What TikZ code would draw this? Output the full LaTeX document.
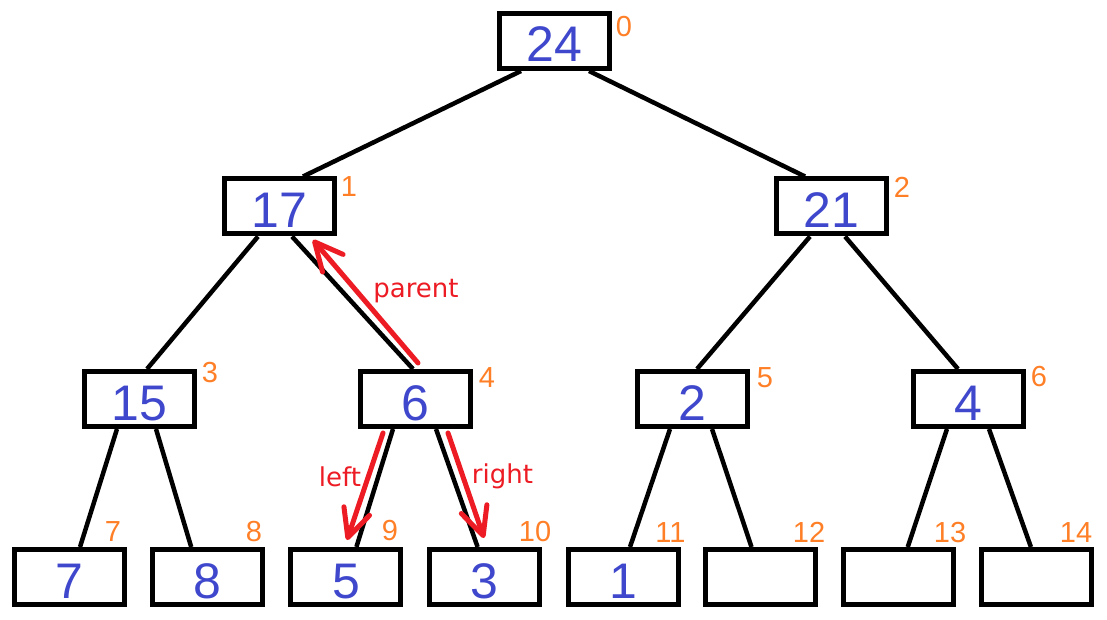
\documentclass[tikz,border=0pt]{standalone}
\usepackage{fontspec}
\setmainfont{Liberation Sans}
\newfontfamily\labelfont{DejaVu Sans}
\usetikzlibrary{arrows.meta}
\definecolor{numblue}{HTML}{3F48CC}
\definecolor{idxorange}{HTML}{FF7F27}
\definecolor{arrred}{HTML}{ED1C24}
\tikzset{
  heapbox/.style={draw=black, line width=5pt, minimum width=110pt, minimum height=55pt,
    inner sep=0pt, text height=42pt, text depth=0pt, text=numblue,
    font=\fontsize{50}{50}\selectfont},
  idx/.style={text=idxorange, inner sep=0pt, font=\fontsize{29}{29}\selectfont},
  edge/.style={draw=black, line width=4.5pt},
  redarrow/.style={draw=arrred, line width=5pt, line cap=round,
    -{Straight Barb[length=28pt,width=27pt,round]}},
  redlabel/.style={text=arrred, inner sep=0pt, anchor=base,
    font=\labelfont\fontsize{26}{26}\selectfont}
}
\begin{document}
\begin{tikzpicture}[x=1pt,y=-1pt]
\useasboundingbox (0,0) rectangle (1107,620);
\fill[white] (0,0) rectangle (1107,620);
% nodes
\node[heapbox] (n0) at (554,41) {24};
\node[heapbox] (n1) at (279.5,206.5) {17};
\node[heapbox] (n2) at (831,206.5) {21};
\node[heapbox] (n3) at (139.5,399) {15};
\node[heapbox] (n4) at (415.5,399) {6};
\node[heapbox] (n5) at (692,399) {2};
\node[heapbox] (n6) at (968,399) {4};
\node[heapbox] (n7) at (69.5,577) {7};
\node[heapbox] (n8) at (207.7,577) {8};
\node[heapbox] (n9) at (345.9,577) {5};
\node[heapbox] (n10) at (484.1,577) {3};
\node[heapbox] (n11) at (623,577) {1};
\node[heapbox] (n12) at (760.5,577) {};
\node[heapbox] (n13) at (898.7,577) {};
\node[heapbox] (n14) at (1036.9,577) {};
% index labels
\node[idx] (i0) at (624,27) {0};
\node[idx] (i1) at (349,187) {1};
\node[idx] (i2) at (902,187) {2};
\node[idx] (i3) at (210,373) {3};
\node[idx] (i4) at (487,378) {4};
\node[idx] (i5) at (765,378) {5};
\node[idx] (i6) at (1039,377) {6};
\node[idx] (i7) at (113,532) {7};
\node[idx] (i8) at (254,532) {8};
\node[idx] (i9) at (390,531) {9};
\node[idx] (i10) at (535,532) {10};
\node[idx] (i11) at (670.5,533) {11};
\node[idx] (i12) at (809,532) {12};
\node[idx] (i13) at (950,533) {13};
\node[idx] (i14) at (1076,533) {14};
% edges
\draw[edge] ([xshift=-33pt]n0.south) -- ([xshift=23.5pt]n1.north);
\draw[edge] ([xshift=35pt]n0.south) -- ([xshift=-26pt]n2.north);
\draw[edge] ([xshift=-21.5pt]n1.south) -- ([xshift=7.5pt]n3.north);
\draw[edge] ([xshift=12.5pt]n1.south) -- ([xshift=-2.5pt]n4.north);
\draw[edge] ([xshift=-21pt]n2.south) -- ([xshift=5pt]n5.north);
\draw[edge] ([xshift=14pt]n2.south) -- ([xshift=-10pt]n6.north);
\draw[edge] ([xshift=-22.5pt]n3.south) -- ([xshift=10.5pt]n7.north);
\draw[edge] ([xshift=16.5pt]n3.south) -- ([xshift=-16.5pt]n8.north);
\draw[edge] ([xshift=-22.5pt]n4.south) -- ([xshift=10.5pt]n9.north);
\draw[edge] ([xshift=20.5pt]n4.south) -- ([xshift=-6.5pt]n10.north);
\draw[edge] ([xshift=-22pt]n5.south) -- ([xshift=7pt]n11.north);
\draw[edge] ([xshift=20pt]n5.south) -- ([xshift=-9pt]n12.north);
\draw[edge] ([xshift=-21pt]n6.south) -- ([xshift=9pt]n13.north);
\draw[edge] ([xshift=21pt]n6.south) -- ([xshift=-6pt]n14.north);
% red arrows
\coordinate (pa) at (418,363);
\coordinate (pb) at (313,240);
\coordinate (la) at (383,433);
\coordinate (lb) at (347,540);
\coordinate (ra) at (448,433);
\coordinate (rb) at (484,538);
\draw[redarrow] (pa) -- (pb);
\draw[redarrow] (la) -- (lb);
\draw[redarrow] (ra) -- (rb);
\node[redlabel] (tp) at (416,297) {parent};
\node[redlabel] (tl) at (340,486) {left};
\node[redlabel] (tr) at (502.5,483) {right};
\end{tikzpicture}
\end{document}
